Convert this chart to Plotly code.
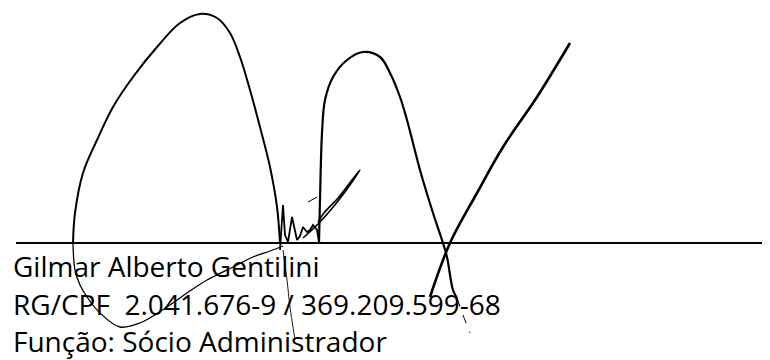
import plotly.graph_objects as go

# Signature strokes (image pixel coordinates, y grows downward)
arch1_x = [73, 75, 83, 97, 113, 133, 157, 180, 200, 217, 230, 240, 250, 260, 270, 277, 280]
arch1_y = [243, 213, 173, 140, 107, 77, 47, 23, 14, 18, 33, 57, 90, 127, 167, 207, 243]

loop_x = [73, 75, 80, 87, 100, 120, 140, 167, 187, 207, 233, 253, 270, 283]
loop_y = [243, 270, 285, 297, 313, 327, 323, 307, 293, 280, 267, 257, 251, 246]

w_x = [280, 283, 285, 288, 292, 297, 300, 303, 307, 310, 313, 317, 319]
w_y = [250, 205, 235, 242, 217, 240, 236, 227, 232, 230, 225, 230, 242]

arch2_x = [319, 320, 322, 325, 333, 347, 363, 380, 390, 400, 407, 420, 433, 443, 447, 453, 457]
arch2_y = [242, 200, 133, 100, 77, 60, 52, 57, 73, 97, 120, 170, 213, 243, 257, 290, 298]

tail_x = [457, 463, 470]
tail_y = [298, 315, 333]

right_x = [430, 450, 477, 503, 537, 570]
right_y = [297, 243, 193, 147, 97, 43]

flick_x = [303, 320, 345, 360, 352, 338, 324, 318]
flick_y = [238, 222, 192, 170, 180, 198, 213, 222]

dash_x = [308, 317]
dash_y = [202, 197]

thin_x = [283, 287, 290, 293, 295]
thin_y = [250, 280, 307, 327, 340]

base_x = [16, 770]
base_y = [243, 243]

text_lines = [
    "Gilmar Alberto Gentilini",
    "RG/CPF  2.041.676-9 / 369.209.599-68",
    "Função: Sócio Administrador",
]
text_y = [266, 304, 341]

fig = go.Figure()

def stroke(x, y, w, dash=None, shape="spline"):
    fig.add_trace(go.Scatter(
        x=x, y=y, mode="lines",
        line=dict(color="#000000", width=w, shape=shape, dash=dash),
        hoverinfo="skip", showlegend=False,
    ))

stroke(base_x, base_y, 2.2, shape="linear")
stroke(arch1_x, arch1_y, 2.0)
stroke(loop_x, loop_y, 1.3)
stroke(w_x, w_y, 1.8, shape="linear")
stroke(arch2_x, arch2_y, 2.2)
stroke(tail_x, tail_y, 1.0, "dash")
stroke(right_x, right_y, 2.6)
stroke(flick_x, flick_y, 1.6)
stroke(dash_x, dash_y, 1.0, shape="linear")
stroke(thin_x, thin_y, 0.9)

for t, yy in zip(text_lines, text_y):
    fig.add_annotation(
        x=11, y=yy, xref="x", yref="y", text=t, showarrow=False,
        xanchor="left", yanchor="middle",
        font=dict(family="Open Sans, sans-serif", size=28, color="#000000"),
    )

# page body has an 8px margin: figure sized/ranged so data px == page px
fig.update_layout(
    width=762, height=352,
    margin=dict(l=0, r=0, t=0, b=0),
    paper_bgcolor="white", plot_bgcolor="white",
    xaxis=dict(range=[8, 770], visible=False, fixedrange=True),
    yaxis=dict(range=[360, 8], visible=False, fixedrange=True),
)

fig.write_html("out.html")
